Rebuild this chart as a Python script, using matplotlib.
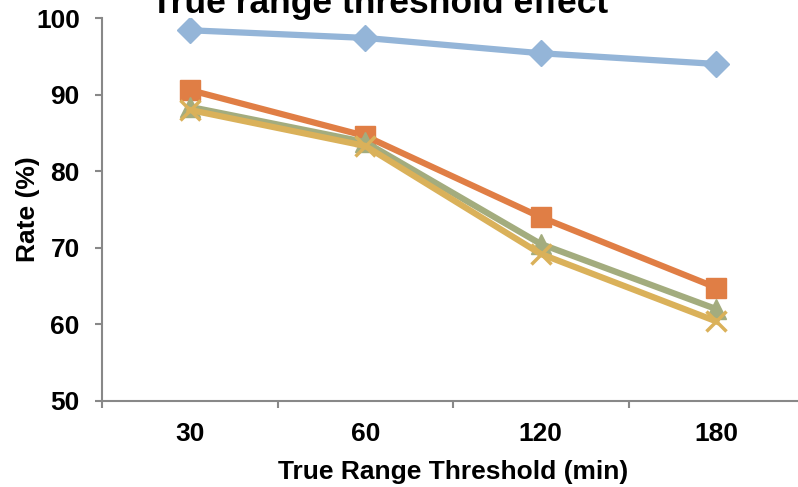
import matplotlib.pyplot as plt

plt.rcParams["font.family"] = ["Liberation Sans", "DejaVu Sans"]
plt.rcParams["font.weight"] = "bold"

thresholds = ["30", "60", "120", "180"]
series_a = [98.4, 97.4, 95.4, 94.0]
series_b = [90.6, 84.6, 74.0, 64.8]
series_c = [88.4, 83.8, 70.5, 62.0]
series_d = [88.0, 83.3, 69.2, 60.4]

x = range(len(thresholds))

fig = plt.figure(figsize=(7.98, 4.87), dpi=100)
ax = fig.add_axes([102 / 798, (487 - 401) / 487, 702 / 798, 383 / 487])

ax.plot(x, series_a, color="#94B5D8", lw=4.5, marker="D", ms=13)
ax.plot(x, series_b, color="#E07E45", lw=4.5, marker="s", ms=15)
ax.plot(x, series_c, color="#A3AC7E", lw=4.5, marker="^", ms=14)
ax.plot(x, series_d, color="#DAB15A", lw=4.5, marker="x", ms=14, mew=2.5)

ax.set_xlim(-0.5, 3.5)
ax.set_ylim(50, 100)
ax.set_yticks([50, 60, 70, 80, 90, 100])
ax.set_xticks(x)
ax.set_xticklabels(thresholds)
ax.set_xticks([-0.5, 0.5, 1.5, 2.5, 3.5], minor=True)
ax.tick_params(axis="x", which="major", length=0, labelsize=19, pad=15)
ax.tick_params(axis="x", which="minor", length=5, color="#888888", width=1.5)
ax.tick_params(axis="y", length=5, color="#888888", width=1.5, labelsize=19, pad=11)

for side in ["top", "right"]:
    ax.spines[side].set_visible(False)
for side in ["left", "bottom"]:
    ax.spines[side].set_color("#888888")
    ax.spines[side].set_linewidth(1.5)

ax.set_xlabel("True Range Threshold (min)", fontsize=19, fontweight="bold")
ax.xaxis.set_label_coords(0.5, -0.155)
ax.set_ylabel("Rate (%)", fontsize=19, fontweight="bold")
ax.yaxis.set_label_coords(-0.088, 0.5)
fig.text(380 / 798, 1 - 12.5 / 487, "True range threshold effect", fontsize=25.5,
         fontweight="bold", ha="center", va="baseline")

fig.savefig("out.png", dpi=100)
